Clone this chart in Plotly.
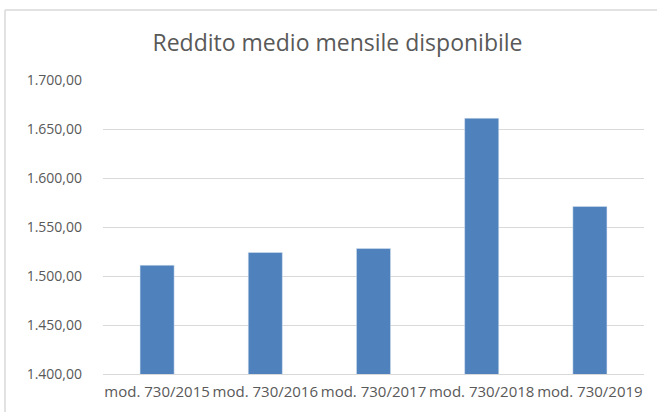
import plotly.graph_objects as go

categories = ["mod. 730/2015", "mod. 730/2016", "mod. 730/2017", "mod. 730/2018", "mod. 730/2019"]
values = [1511, 1524, 1528, 1661, 1571]
tick_values = [1400, 1450, 1500, 1550, 1600, 1650, 1700]
title_text = "Reddito medio mensile disponibile"

W, H = 657, 412
ml, mr, mt, mb = 103, 13, 80, 38

fig = go.Figure(go.Bar(
    x=categories, y=values,
    marker=dict(color="#4f81bd", line=dict(color="#dce6f2", width=0.5)),
))

pw = W - ml - mr
ph = H - mt - mb
bx = (5 - ml) / pw
by = (H - mb - 10) / ph

fig.update_layout(
    width=W, height=H,
    margin=dict(l=ml, r=mr, t=mt, b=mb),
    paper_bgcolor="white", plot_bgcolor="white",
    separators=",.",
    bargap=0.685,
    showlegend=False,
    font=dict(family="Open Sans", color="#595959", size=12),
    title=dict(text=title_text, x=337.5 / W, xanchor="center", y=1 - 43 / H, yanchor="middle",
               font=dict(size=23, color="#595959", family="Open Sans")),
    xaxis=dict(showgrid=False, showline=True, linecolor="#d9d9d9", linewidth=1,
               ticks="", ticklabelstandoff=4, tickfont=dict(size=15, color="#595959")),
    yaxis=dict(range=[1400, 1700], tickvals=tick_values, tickformat=",.2f",
               showgrid=True, gridcolor="#d9d9d9", gridwidth=1, zeroline=False,
               showline=False, ticks="", ticklabelstandoff=20,
               tickfont=dict(size=14, color="#595959")),
    shapes=[
        dict(type="line", xref="paper", yref="paper", x0=bx, x1=bx, y0=-1, y1=by,
             line=dict(color="#d9d9d9", width=1.5)),
        dict(type="line", xref="paper", yref="paper", x0=bx, x1=2, y0=by, y1=by,
             line=dict(color="#d9d9d9", width=1.5)),
    ],
)

fig.write_html("out.html", config={"displayModeBar": False},
               post_script="document.body.style.margin='0';")
